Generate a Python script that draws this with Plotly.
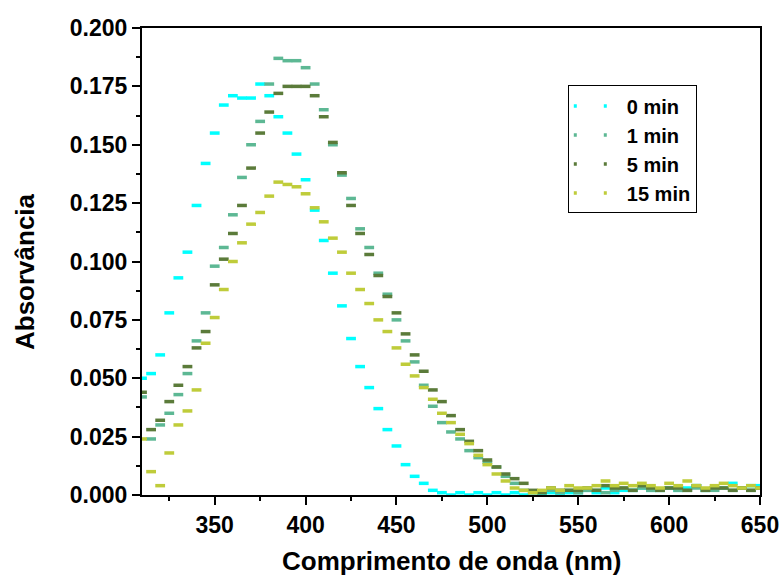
import plotly.graph_objects as go

# Wavelength grid (nm)
wavelength = list(range(310, 655, 5))

# Absorbance spectra at each irradiation time
abs_0min = [
    0.050, 0.052, 0.060, 0.078, 0.093, 0.104, 0.124, 0.142, 0.155, 0.167,
    0.171, 0.170, 0.170, 0.176, 0.171, 0.162, 0.155, 0.146, 0.135, 0.122,
    0.109, 0.095, 0.081, 0.067, 0.055, 0.046, 0.037, 0.028, 0.021, 0.013,
    0.008, 0.005, 0.002, 0.001, 0.000, 0.001, 0.000, 0.001, 0.000, 0.001,
    0.000, 0.001, 0.000,
    0.001, 0.000, 0.001, 0.000, 0.001, 0.001, 0.002, 0.001, 0.003, 0.001,
    0.002, 0.002, 0.003, 0.002, 0.002, 0.003, 0.002, 0.003, 0.004, 0.002,
    0.003, 0.003, 0.005, 0.003, 0.004, 0.004,
]
abs_1min = [
    0.042, 0.024, 0.030, 0.035, 0.043, 0.052, 0.066, 0.078, 0.098, 0.106,
    0.120, 0.136, 0.150, 0.160, 0.176, 0.187, 0.186, 0.186, 0.183, 0.176,
    0.165, 0.150, 0.137, 0.127, 0.114, 0.106, 0.095, 0.086, 0.075, 0.066,
    0.057, 0.047, 0.038, 0.031, 0.027, 0.024, 0.019, 0.016, 0.014, 0.012,
    0.008, 0.005, 0.002,
    0.001, 0.001, 0.002, 0.001, 0.002, 0.001, 0.002, 0.002, 0.001, 0.002,
    0.003, 0.002, 0.003, 0.002, 0.002, 0.003, 0.002, 0.002, 0.003, 0.002,
    0.002, 0.003, 0.002, 0.003, 0.002, 0.003,
]
abs_5min = [
    0.044, 0.028, 0.032, 0.040, 0.047, 0.055, 0.063, 0.070, 0.090, 0.101,
    0.112, 0.124, 0.140, 0.155, 0.164, 0.172, 0.175, 0.175, 0.175, 0.171,
    0.162, 0.151, 0.138, 0.124, 0.112, 0.103, 0.094, 0.085, 0.078, 0.069,
    0.060, 0.053, 0.045, 0.040, 0.034, 0.028, 0.023, 0.019, 0.015, 0.012,
    0.009, 0.007, 0.005,
    0.002, 0.001, 0.003, 0.002, 0.002, 0.002, 0.003, 0.002, 0.004, 0.003,
    0.003, 0.002, 0.004, 0.003, 0.002, 0.003, 0.003, 0.002, 0.004, 0.002,
    0.003, 0.003, 0.002, 0.003, 0.002, 0.003,
]
abs_15min = [
    0.024, 0.010, 0.004, 0.018, 0.030, 0.036, 0.045, 0.065, 0.076, 0.088,
    0.100, 0.108, 0.116, 0.121, 0.128, 0.134, 0.133, 0.132, 0.129, 0.123,
    0.117, 0.110, 0.104, 0.095, 0.088, 0.082, 0.075, 0.070, 0.063, 0.056,
    0.051, 0.046, 0.041, 0.035, 0.031, 0.026, 0.022, 0.017, 0.013, 0.009,
    0.006, 0.003, 0.002,
    0.001, 0.002, 0.003, 0.002, 0.004, 0.003, 0.003, 0.004, 0.006, 0.004,
    0.005, 0.004, 0.005, 0.004, 0.003, 0.005, 0.004, 0.006, 0.004, 0.003,
    0.004, 0.005, 0.004, 0.003, 0.004, 0.003,
]

series_names = ["0 min", "1 min", "5 min", "15 min"]
series_values = [abs_0min, abs_1min, abs_5min, abs_15min]
series_colors = ["#00FFFF", "#5DB894", "#5B7B3A", "#BFCC3A"]

FONT = "Liberation Sans, Arial, sans-serif"

fig = go.Figure()

# each sample drawn as a short dash, giving a dotted curve
for name, vals, col in zip(series_names, series_values, series_colors):
    fig.add_trace(go.Scatter(
        x=wavelength, y=vals, mode="markers", name=name, showlegend=False,
        marker=dict(symbol="line-ew", size=7, color=col,
                    line=dict(color=col, width=3.5)),
    ))

# legend entries: two short dashes per series
for name, col in zip(series_names, series_colors):
    fig.add_trace(go.Scatter(
        x=[None], y=[None], mode="lines", name=name,
        line=dict(color=col, width=3.5, dash="3px,27px"),
    ))

axis_common = dict(
    showline=True, linecolor="black", linewidth=2, mirror=True,
    showgrid=False, zeroline=False, automargin=False,
    ticks="outside", ticklen=8, tickwidth=2, tickcolor="black",
    tickfont=dict(family=FONT, size=23, color="black", weight="bold"),
)

title_font = dict(family=FONT, size=26, color="black", weight="bold")

fig.update_layout(
    width=780, height=578,
    margin=dict(l=142, r=20, t=28, b=83),
    paper_bgcolor="white", plot_bgcolor="white",
    xaxis=dict(
        range=[310, 650], tick0=350, dtick=50,
        minor=dict(ticks="outside", ticklen=4, tickwidth=2, tickcolor="black", dtick=25, tick0=325),
        **axis_common,
    ),
    yaxis=dict(
        range=[0, 0.2], tick0=0, dtick=0.025, tickformat=".3f",
        minor=dict(ticks="outside", ticklen=4, tickwidth=2, tickcolor="black", dtick=0.0125),
        **axis_common,
    ),
    legend=dict(
        x=0.689, y=0.877, xanchor="left", yanchor="top",
        bgcolor="white", bordercolor="black", borderwidth=1,
        font=dict(family=FONT, size=20, color="black", weight="bold"),
        itemwidth=48, tracegroupgap=0,
    ),
    annotations=[
        dict(text="Comprimento de onda (nm)", xref="paper", yref="paper",
             x=0.5, y=0, yshift=-66, xanchor="center", yanchor="middle",
             showarrow=False, font=title_font),
        dict(text="Absorvância", xref="paper", yref="paper",
             x=0, y=0.4775, xshift=-117, xanchor="center", yanchor="middle",
             textangle=-90, showarrow=False, font=title_font),
    ],
)

fig.write_html("out.html")
